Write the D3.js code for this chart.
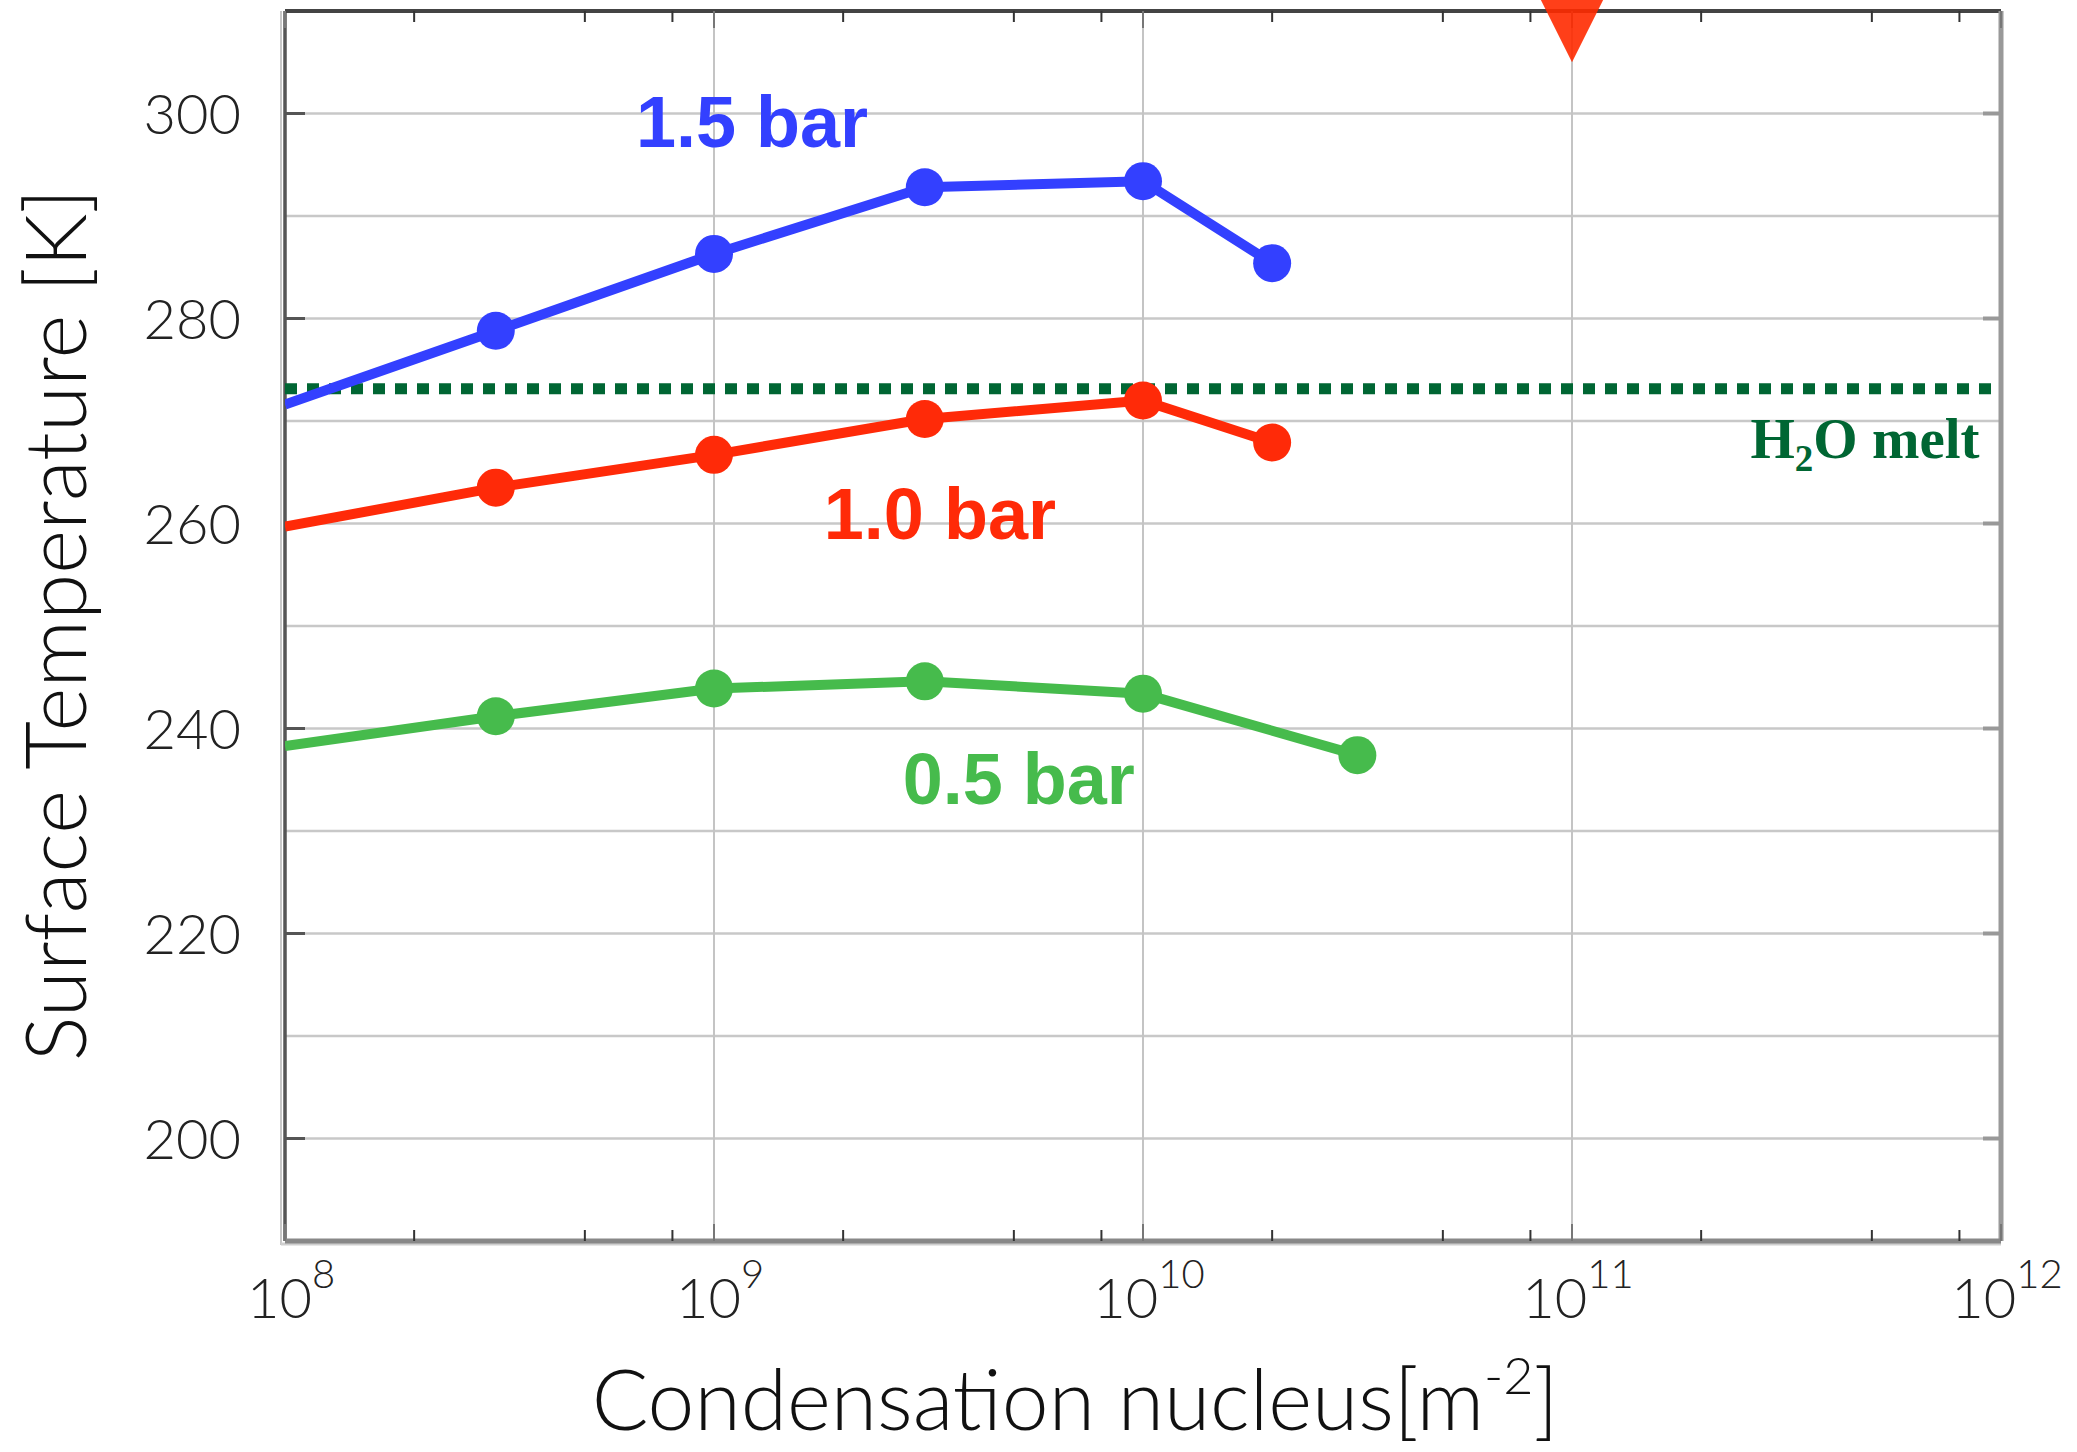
<!DOCTYPE html>
<html>
<head>
<meta charset="utf-8">
<script src="https://cdn.jsdelivr.net/npm/d3@7"></script>
<style>
  body { margin: 0; background: #fff; }
  svg { display: block; }
</style>
</head>
<body>
<div id="chart"></div>
<script>
const width = 2077;
const height = 1452;
const margin = { top: 11, right: 76, bottom: 211, left: 285 };
const axisFont = "Lato, 'Open Sans', sans-serif";

// condensation nucleus density [m^-2]
const nuclei = [1e8, 3.1e8, 1e9, 3.1e9, 1e10, 2e10];
const nucleiLow = [1e8, 3.1e8, 1e9, 3.1e9, 1e10, 3.16e10];

// surface temperature [K] for each surface pressure
const temp15 = [271.6, 278.8, 286.3, 292.8, 293.4, 285.4];
const temp10 = [259.7, 263.5, 266.7, 270.2, 272.0, 267.9];
const temp05 = [238.3, 241.2, 243.9, 244.6, 243.4, 237.4];

const meltTemp = 273.15;
const markerN = 1e11;
const markerT = 305;

const yTicks = [200, 220, 240, 260, 280, 300];
const yGrid = [200, 210, 220, 230, 240, 250, 260, 270, 280, 290, 300];
const xDecades = [8, 9, 10, 11, 12];
const xMinor = [2, 5, 8];

const series = [
  { label: "1.5 bar", color: "#3340ff", xs: nuclei, ys: temp15, at: [10 ** 8.818, 296.7] },
  { label: "1.0 bar", color: "#ff2a08", xs: nuclei, ys: temp10, at: [10 ** 9.256, 258.5] },
  { label: "0.5 bar", color: "#46bb4c", xs: nucleiLow, ys: temp05, at: [10 ** 9.44, 232.6] }
];

let x = d3.scaleLog().domain([1e8, 1e12]).range([margin.left, width - margin.right]);
let y = d3.scaleLinear().domain([190, 310]).range([height - margin.bottom, margin.top]);

let svg = d3.select("#chart").append("svg")
  .attr("width", width)
  .attr("height", height)
  .style("font-family", axisFont);

svg.append("clipPath").attr("id", "plot-clip")
  .append("rect")
  .attr("x", x.range()[0]).attr("y", y.range()[1])
  .attr("width", x.range()[1] - x.range()[0])
  .attr("height", y.range()[0] - y.range()[1]);

// grid
svg.append("g").selectAll("line")
  .data(yGrid)
  .enter().append("line")
  .attr("x1", x.range()[0]).attr("x2", x.range()[1])
  .attr("y1", d => y(d)).attr("y2", d => y(d))
  .attr("stroke", "#c8c8c8").attr("stroke-width", 2.5);

svg.append("g").selectAll("line")
  .data(xDecades.slice(1, -1))
  .enter().append("line")
  .attr("x1", d => x(10 ** d)).attr("x2", d => x(10 ** d))
  .attr("y1", y.range()[0]).attr("y2", y.range()[1])
  .attr("stroke", "#c4c4c4").attr("stroke-width", 2);

// frame
let x0 = x.range()[0], x1 = x.range()[1], yb = y.range()[0], yt = y.range()[1];
svg.append("line").attr("x1", x0 - 4).attr("x2", x0 - 4).attr("y1", yt).attr("y2", yb + 4)
  .attr("stroke", "#c8c8c8").attr("stroke-width", 2);
svg.append("line").attr("x1", x0).attr("x2", x0).attr("y1", yt).attr("y2", yb)
  .attr("stroke", "#555").attr("stroke-width", 3.5);
svg.append("line").attr("x1", x0).attr("x2", x1).attr("y1", yt).attr("y2", yt)
  .attr("stroke", "#444").attr("stroke-width", 4);
svg.append("line").attr("x1", x1).attr("x2", x1).attr("y1", yt).attr("y2", yb)
  .attr("stroke", "#999").attr("stroke-width", 5);
svg.append("line").attr("x1", x0 - 4).attr("x2", x1).attr("y1", yb + 3).attr("y2", yb + 3)
  .attr("stroke", "#cfcfcf").attr("stroke-width", 3);
svg.append("line").attr("x1", x0).attr("x2", x1).attr("y1", yb).attr("y2", yb)
  .attr("stroke", "#888").attr("stroke-width", 5);

// y ticks (left dark, right grey)
svg.append("g").selectAll("line")
  .data(yTicks)
  .enter().append("line")
  .attr("x1", x0).attr("x2", x0 + 20)
  .attr("y1", d => y(d)).attr("y2", d => y(d))
  .attr("stroke", "#555").attr("stroke-width", 3);
svg.append("g").selectAll("line")
  .data(yTicks)
  .enter().append("line")
  .attr("x1", x1 - 18).attr("x2", x1)
  .attr("y1", d => y(d)).attr("y2", d => y(d))
  .attr("stroke", "#999").attr("stroke-width", 4);

// x ticks, top and bottom
let minorVals = [];
xDecades.slice(0, -1).forEach(d => xMinor.forEach(m => minorVals.push(m * 10 ** d)));
[[yt, 1], [yb, -1]].forEach(([base, dir]) => {
  svg.append("g").selectAll("line")
    .data(minorVals)
    .enter().append("line")
    .attr("x1", d => x(d)).attr("x2", d => x(d))
    .attr("y1", base).attr("y2", base + dir * 11)
    .attr("stroke", "#333").attr("stroke-width", 2);
  svg.append("g").selectAll("line")
    .data(xDecades)
    .enter().append("line")
    .attr("x1", d => x(10 ** d)).attr("x2", d => x(10 ** d))
    .attr("y1", base).attr("y2", base + dir * 17)
    .attr("stroke", "#777").attr("stroke-width", 2);
});

// tick labels
svg.append("g").selectAll("text")
  .data(yTicks)
  .enter().append("text")
  .attr("x", 241).attr("y", d => y(d) + 20)
  .attr("text-anchor", "end")
  .attr("font-size", 56).attr("font-weight", 300)
  .attr("fill", "#222")
  .text(d => d);

xDecades.forEach(d => {
  let t = svg.append("text")
    .attr("x", x(10 ** d) + 6).attr("y", 1318)
    .attr("text-anchor", "middle")
    .attr("font-size", 56).attr("font-weight", 300)
    .attr("fill", "#222");
  t.append("tspan").text("10");
  t.append("tspan").attr("dy", -30).attr("font-size", 40).text(d);
});

// axis titles
let xt = svg.append("text")
  .attr("x", 1075).attr("y", 1430)
  .attr("text-anchor", "middle")
  .attr("font-size", 84).attr("font-weight", 300)
  .attr("fill", "#111");
xt.append("tspan").text("Condensation nucleus[m");
xt.append("tspan").attr("dy", -36).attr("font-size", 52).text("-2");
xt.append("tspan").attr("dy", 36).text("]");

svg.append("text")
  .attr("transform", "translate(86,625) rotate(-90)")
  .attr("text-anchor", "middle")
  .attr("font-size", 84).attr("font-weight", 300)
  .attr("fill", "#111")
  .text("Surface Temperature [K]");

// melting line
let plot = svg.append("g").attr("clip-path", "url(#plot-clip)");
plot.append("line")
  .attr("x1", x0).attr("x2", x1)
  .attr("y1", y(meltTemp)).attr("y2", y(meltTemp))
  .attr("stroke", "#006633").attr("stroke-width", 11)
  .attr("stroke-dasharray", "12 10");

let mt = svg.append("text")
  .attr("x", x(10 ** 11.95)).attr("y", y(266.4))
  .attr("text-anchor", "end")
  .style("font-family", "'Liberation Serif', 'DejaVu Serif', serif")
  .attr("font-size", 57).attr("font-weight", 700)
  .attr("fill", "#006633");
mt.append("tspan").text("H");
mt.append("tspan").attr("dy", 13).attr("font-size", 37).text("2");
mt.append("tspan").attr("dy", -13).text("O melt");

// series
let line = d3.line().x(d => x(d[0])).y(d => y(d[1]));
series.forEach(s => {
  let pts = d3.zip(s.xs, s.ys);
  plot.append("path")
    .datum(pts)
    .attr("d", line)
    .attr("fill", "none")
    .attr("stroke", s.color)
    .attr("stroke-width", 10)
    .attr("stroke-linejoin", "round");
  plot.selectAll(null)
    .data(pts.slice(1))
    .enter().append("circle")
    .attr("cx", d => x(d[0])).attr("cy", d => y(d[1]))
    .attr("r", 19)
    .attr("fill", s.color);
  svg.append("text")
    .attr("x", x(s.at[0])).attr("y", y(s.at[1]))
    .style("font-family", "'Liberation Sans', Arial, sans-serif")
    .attr("font-size", 72).attr("font-weight", 700)
    .attr("fill", s.color)
    .text(s.label);
});

// event marker at the top
let mx = x(markerN), my = y(markerT);
svg.append("path")
  .attr("d", `M${mx},${my} L${mx - 41},${my - 82} L${mx + 41},${my - 82} Z`)
  .attr("fill", "#ff2a00")
  .attr("fill-opacity", 0.9);
</script>
</body>
</html>
